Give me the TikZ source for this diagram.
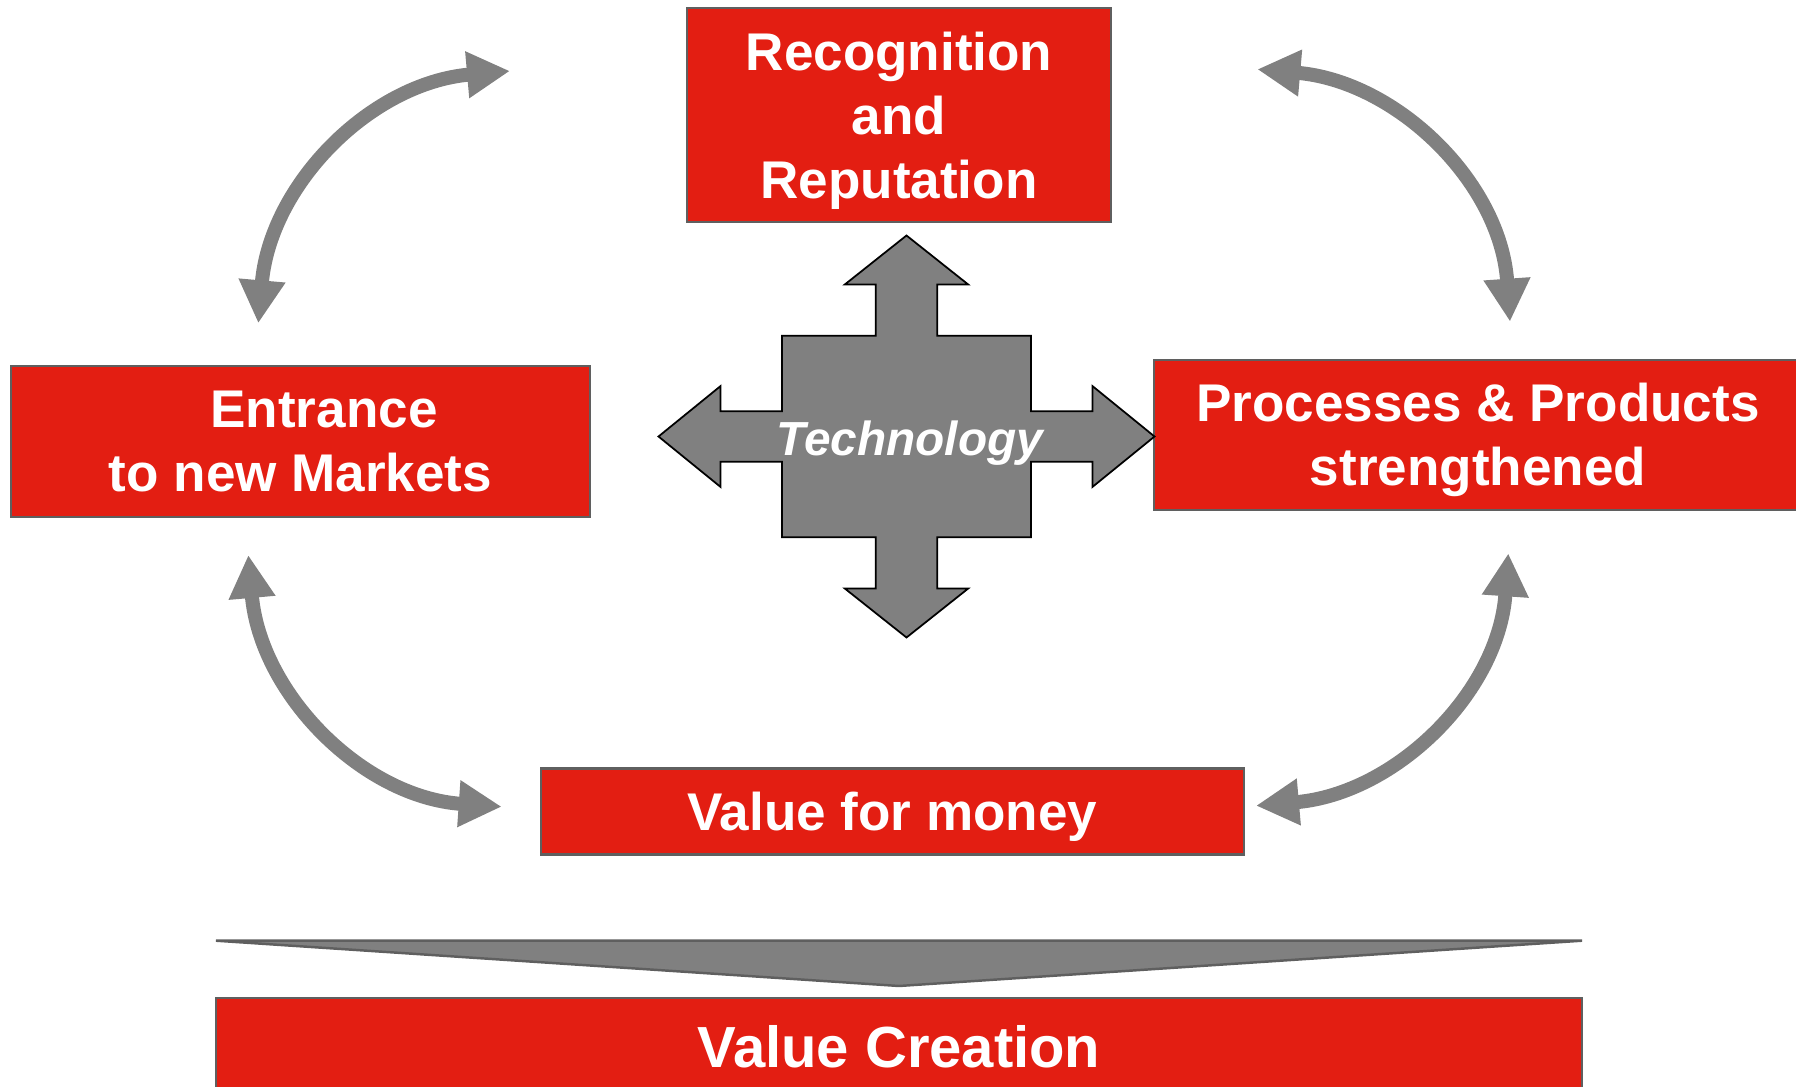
\documentclass[tikz,border=0pt]{standalone}
\usepackage{fontspec}
\setmainfont{Liberation Sans}
\usepackage{xcolor}
\usetikzlibrary{arrows.meta}

\definecolor{boxred}{HTML}{E31E12}
\definecolor{boxline}{HTML}{5F5F5F}
\definecolor{arrgray}{HTML}{808080}

\tikzset{
    box/.style={fill=boxred, draw=boxline, line width=0.6pt, inner sep=0pt, text depth=0pt,
        text=white, align=center, font=\fontsize{15.1}{18.2}\selectfont\bfseries},
    cyc/.style={draw=arrgray, line width=1.4mm,
        {Triangle[length=4.3mm,width=4.4mm]}-{Triangle[length=4.3mm,width=4.4mm]}}
}

\begin{document}
\begin{tikzpicture}[x=0.1mm, y=0.1mm]
        % canvas
        \useasboundingbox (0,0) rectangle (1796,1086);

        % Boxes (Red)
        \node[box, minimum width=42.4mm, minimum height=21.4mm] (recog) at (899,971) {Recognition\\and\\Reputation};
        \node[box, minimum width=57.9mm, minimum height=15.1mm] (market) at (300.5,644.5) {\hspace*{4.7mm}Entrance\\to new Markets};
        \node[box, minimum width=64.8mm, minimum height=15.0mm] (proc) at (1478,651.4) {Processes \& Products\\strengthened};
        \node[box, minimum width=70.3mm, minimum height=8.6mm] (money) at (892.3,274.5) {Value for money};

        % Value Creation + funnel above it
        \node[box, minimum width=136.6mm, minimum height=9.6mm, font=\fontsize{16.5}{19}\selectfont\bfseries] (create) at (899,40) {Value Creation};
        \draw[fill=arrgray, draw=boxline, line width=0.7pt] (216,145.3) -- (1582,145.3) -- (899,100) -- cycle;

        % Technology cross (Gray)
        \coordinate (tech) at (906.5,649.5);
        \draw[fill=arrgray, draw=black, line width=0.5pt, shift={(tech)}]
            (0,201) -- (61.7,152) -- (30.8,152) -- (30.8,100.8) -- (124.5,100.8) -- (124.5,25.3)
            -- (186,25.3) -- (186,50.4) -- (248,0) -- (186,-50.4) -- (186,-25.3) -- (124.5,-25.3)
            -- (124.5,-100.8) -- (30.8,-100.8) -- (30.8,-152) -- (61.7,-152) -- (0,-201)
            -- (-61.7,-152) -- (-30.8,-152) -- (-30.8,-100.8) -- (-124.5,-100.8) -- (-124.5,-25.3)
            -- (-186,-25.3) -- (-186,-50.4) -- (-248,0) -- (-186,50.4) -- (-186,25.3) -- (-124.5,25.3)
            -- (-124.5,100.8) -- (-30.8,100.8) -- (-30.8,152) -- (-61.7,152) -- cycle;
        \node[anchor=base, text=white, inner sep=0pt, font=\fontsize{13.6}{16}\selectfont\bfseries\itshape] (techlabel) at (910,631) {Technology};

        % Arrow ends
        \coordinate (a1) at (258.3,762.7);  \coordinate (b1) at (510,1015);
        \coordinate (a2) at (1257.3,1016.7); \coordinate (b2) at (1510,764.3);
        \coordinate (a3) at (248.3,531);    \coordinate (b3) at (501.7,279.3);
        \coordinate (a4) at (1508.3,532.7); \coordinate (b4) at (1256,280.3);

        % Curved double arrows
        \draw[cyc] (a1) to[out=85, in=185] (b1);
        \draw[cyc] (a2) to[out=-5, in=94] (b2);
        \draw[cyc] (a3) to[out=-85, in=176] (b3);
        \draw[cyc] (a4) to[out=-94, in=5] (b4);
    \end{tikzpicture}
\end{document}
